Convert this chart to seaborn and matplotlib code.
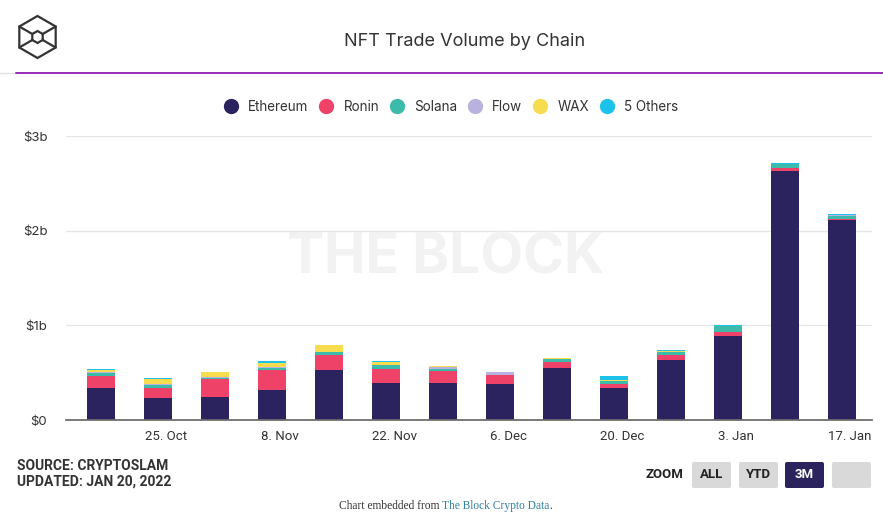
import numpy as np
import pandas as pd
import matplotlib
matplotlib.use("Agg")
import matplotlib.pyplot as plt
from matplotlib.lines import Line2D
from matplotlib.patches import FancyBboxPatch, Polygon
import seaborn as sns

# ---------------- data (USD billions, weekly) ----------------
weeks = ["2021-10-17", "2021-10-24", "2021-10-31", "2021-11-07", "2021-11-14",
         "2021-11-21", "2021-11-28", "2021-12-05", "2021-12-12", "2021-12-19",
         "2021-12-26", "2022-01-02", "2022-01-09", "2022-01-16"]
chains = ["Ethereum", "Ronin", "Solana", "Flow", "WAX", "5 Others"]
ethereum = [0.343, 0.237, 0.247, 0.315, 0.527, 0.396, 0.396, 0.385, 0.551, 0.339, 0.633, 0.883, 2.627, 2.117]
ronin    = [0.117, 0.106, 0.187, 0.212, 0.155, 0.145, 0.117, 0.088, 0.057, 0.045, 0.053, 0.046, 0.030, 0.010]
solana   = [0.035, 0.030, 0.014, 0.025, 0.035, 0.039, 0.030, 0.005, 0.035, 0.028, 0.028, 0.060, 0.045, 0.025]
flow     = [0.010, 0.010, 0.008, 0.012, 0.005, 0.005, 0.012, 0.028, 0.005, 0.005, 0.005, 0.005, 0.003, 0.015]
wax      = [0.028, 0.050, 0.050, 0.040, 0.067, 0.032, 0.015, 0.003, 0.003, 0.003, 0.015, 0.003, 0.002, 0.002]
others   = [0.005, 0.015, 0.003, 0.015, 0.005, 0.005, 0.005, 0.003, 0.005, 0.042, 0.005, 0.008, 0.005, 0.004]
chain_colors = ["#2a235e", "#ee4269", "#3dbbaa", "#b9b1de", "#f7dc4f", "#1dc2ec"]

tick_dates = ["2021-10-25", "2021-11-08", "2021-11-22", "2021-12-06",
              "2021-12-20", "2022-01-03", "2022-01-17"]
tick_labels = ["25. Oct", "8. Nov", "22. Nov", "6. Dec", "20. Dec", "3. Jan", "17. Jan"]
y_ticks = [0, 1, 2, 3]
y_tick_labels = ["$0", "$1b", "$2b", "$3b"]

TXT = "#333333"

sns.set_theme(style="white")
plt.rcParams["font.family"] = ["Inter", "DejaVu Sans"]
narrow = ["Liberation Sans Narrow", "Roboto", "DejaVu Sans"]

fig = plt.figure(figsize=(8.83, 5.22), dpi=100)
W, H = 883, 522
ax = fig.add_axes([66 / W, 1 - 420 / H, (872 - 66) / W, (420 - 136) / H])

df = pd.DataFrame({"week": weeks, "Ethereum": ethereum, "Ronin": ronin, "Solana": solana,
                   "Flow": flow, "WAX": wax, "5 Others": others})
bottom = np.zeros(len(df))
for name, color in zip(chains, chain_colors):
    sns.barplot(data=df, x="week", y=name, color=color, saturation=1, errorbar=None,
                width=0.48, bottom=bottom, linewidth=0, zorder=3, ax=ax)
    bottom = bottom + df[name].to_numpy()

# x ticks placed at their dates on the weekly category scale
w0 = pd.Timestamp(weeks[0])
tick_pos = [(pd.Timestamp(d) - w0).days / 7 for d in tick_dates]
ax.set_xticks(tick_pos, tick_labels)
ax.set_xlim(-0.614, 13.526)
ax.set_ylim(0, 3)
ax.set_yticks(y_ticks, y_tick_labels)
ax.set_xlabel("")
ax.set_ylabel("")
ax.grid(axis="y", color="#e6e6e6", lw=1, zorder=0)
ax.grid(axis="x", visible=False)
ax.set_axisbelow(True)
for s in ["top", "right", "left"]:
    ax.spines[s].set_visible(False)
ax.spines["bottom"].set_color("#6e6e6e")
ax.spines["bottom"].set_linewidth(1.3)
ax.spines["bottom"].set_zorder(4)
ax.tick_params(axis="y", length=0, pad=13.5, labelsize=9.5, labelcolor=TXT)
ax.tick_params(axis="x", length=0, pad=7, labelsize=9.5, labelcolor=TXT)
for lab in ax.get_xticklabels():
    lab.set_family(narrow)

# watermark
ax.text((446 - 66) / 806, (420 - 258) / 284, "THE BLOCK", transform=ax.transAxes,
        ha="center", va="center", fontsize=40, fontweight="bold", color="#f2f2f2", zorder=1)

# legend
handles = [Line2D([], [], marker="o", ls="", ms=10, color=c) for c in chain_colors]
fig.legend(handles, chains, loc="center", bbox_to_anchor=(451 / W, 1 - 107 / H), ncol=6,
           frameon=False, fontsize=9.7, handlelength=1.0, handletextpad=0.8,
           columnspacing=0.8, labelcolor=TXT)

# decorations in pixel coordinates
deco = fig.add_axes([0, 0, 1, 1], zorder=-1)
deco.set_xlim(0, W)
deco.set_ylim(H, 0)
deco.axis("off")

# logo
cx, cy, r, ri = 37.5, 37, 21, 6
ang = np.deg2rad([90, 30, -30, -90, -150, 150])
outer = np.c_[cx + r * np.cos(ang), cy - r * np.sin(ang)]
inner = np.c_[cx + ri * np.cos(ang), cy - ri * np.sin(ang)]
deco.add_patch(Polygon(outer, closed=True, fill=False, ec="#333333", lw=1.6))
deco.add_patch(Polygon(inner, closed=True, fill=False, ec="#333333", lw=1.6))
for k in [1, 2, 4, 5]:
    deco.plot([outer[k, 0], inner[k, 0]], [outer[k, 1], inner[k, 1]], color="#333333", lw=1.6)

deco.plot([0, 16], [73, 73], color="#e3e3e3", lw=1)
deco.plot([16, W], [72.5, 72.5], color="#9b2db9", lw=1.4)
deco.text(465, 41.5, "NFT Trade Volume by Chain", ha="center", va="center",
          fontsize=13, color=TXT)

deco.text(17, 466, "SOURCE: CRYPTOSLAM", ha="left", va="center", fontsize=10,
          fontweight="bold", color=TXT, family=narrow)
deco.text(17, 482, "UPDATED: JAN 20, 2022", ha="left", va="center", fontsize=10,
          fontweight="bold", color=TXT, family=narrow)

# zoom buttons
deco.text(664, 475, "ZOOM", ha="center", va="center", fontsize=9.5, fontweight="bold",
          color="#222222", family=narrow)
buttons = [("ALL", 692, "#d9d9d9", "#222222"), ("YTD", 739, "#d9d9d9", "#222222"),
           ("3M", 785, "#2a235e", "white"), ("", 832, "#d9d9d9", "#222222")]
for lbl, bx, fc, tc in buttons:
    deco.add_patch(FancyBboxPatch((bx, 462), 39, 26, boxstyle="round,pad=0,rounding_size=2",
                                  fc=fc, ec="none"))
    if lbl:
        deco.text(bx + 19.5, 475, lbl, ha="center", va="center", fontsize=9.5,
                  fontweight="bold", color=tc, family=narrow)

t1 = deco.text(442, 506, "Chart embedded from ", ha="right", va="center", fontsize=8.3,
               color=TXT, family=["Liberation Serif", "DejaVu Serif"])
t2 = deco.text(442, 506, "The Block Crypto Data", ha="left", va="center", fontsize=8.3,
               color="#2f80a6", family=["Liberation Serif", "DejaVu Serif"])
deco.annotate(".", xy=(1, 0), xycoords=t2, ha="left", va="bottom", fontsize=8.3,
              color=TXT, family=["Liberation Serif", "DejaVu Serif"])

fig.savefig("out.png", dpi=100, facecolor="white")
